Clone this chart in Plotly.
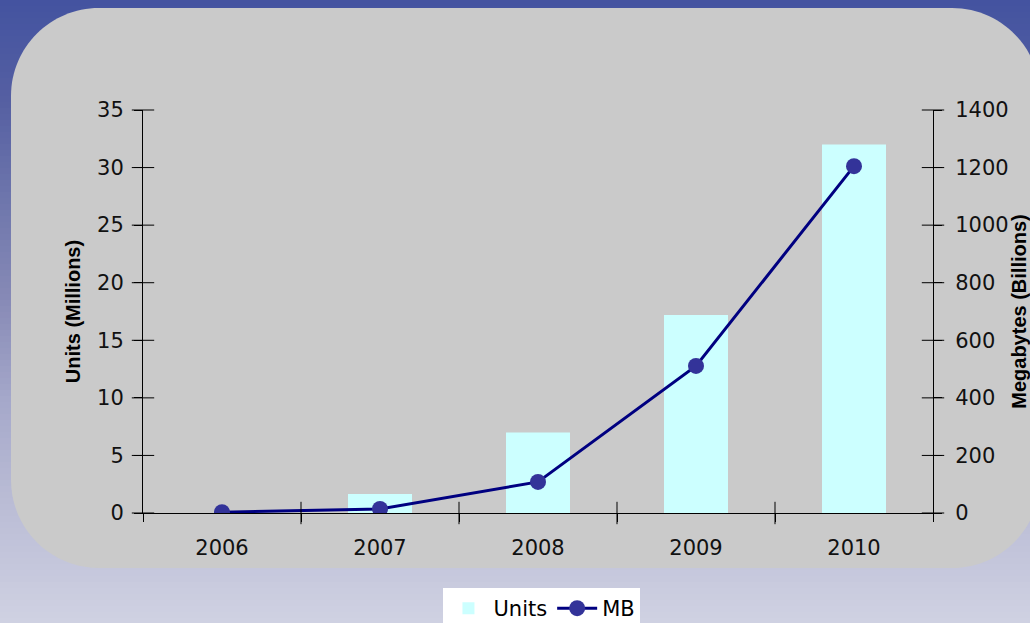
import plotly.graph_objects as go

years = ["2006", "2007", "2008", "2009", "2010"]
units_millions = [0, 1.65, 7.0, 17.2, 32.0]
mb_billions = [3, 14, 108, 511, 1205]
units_ticks = [0, 5, 10, 15, 20, 25, 30, 35]
mb_ticks = [0, 200, 400, 600, 800, 1000, 1200, 1400]

W, H = 1030, 623
L, R, T, B = 143, 97, 110, 110
PW, PH = W - L - R, H - T - B


def px(x):
    return (x - L) / PW


def py(y):
    return (H - B - y) / PH


shapes = []
# background vertical gradient
stops = [(0, (67, 83, 160)), (100, (85, 95, 162)), (200, (110, 118, 172)),
         (300, (135, 138, 182)), (400, (165, 168, 202)), (500, (186, 188, 213)),
         (623, (207, 209, 226))]


def col_at(y):
    for (y0, c0), (y1, c1) in zip(stops[:-1], stops[1:]):
        if y0 <= y <= y1:
            t = (y - y0) / (y1 - y0)
            c = [round(a + (b - a) * t) for a, b in zip(c0, c1)]
            return "rgb(%d,%d,%d)" % tuple(c)
    return "rgb(%d,%d,%d)" % stops[-1][1]


step = 6
for y in range(0, H, step):
    shapes.append(dict(type="rect", xref="paper", yref="paper", layer="below",
                       x0=px(-2), x1=px(W + 2), y0=py(y + step + 0.5), y1=py(y),
                       fillcolor=col_at(y + step / 2), line=dict(width=0)))

# rounded grey panel
x0, x1, y0, y1, r = 11, 1040, 8, 568, 88
k = 0.5523 * r


def P(x, y):
    return "%.5f,%.5f" % (px(x), py(y))


path = ("M " + P(x0 + r, y0) + " L " + P(x1 - r, y0) +
        " C " + P(x1 - r + k, y0) + " " + P(x1, y0 + r - k) + " " + P(x1, y0 + r) +
        " L " + P(x1, y1 - r) +
        " C " + P(x1, y1 - r + k) + " " + P(x1 - r + k, y1) + " " + P(x1 - r, y1) +
        " L " + P(x0 + r, y1) +
        " C " + P(x0 + r - k, y1) + " " + P(x0, y1 - r + k) + " " + P(x0, y1 - r) +
        " L " + P(x0, y0 + r) +
        " C " + P(x0, y0 + r - k) + " " + P(x0 + r - k, y0) + " " + P(x0 + r, y0) + " Z")
shapes.append(dict(type="path", xref="paper", yref="paper", layer="below", path=path,
                   fillcolor="#cacaca", line=dict(width=0)))

tickfont = dict(family="DejaVu Sans", size=21, color="#111111")
titlefont = dict(family="Liberation Sans", size=20, color="#000000")

fig = go.Figure()
fig.add_trace(go.Bar(x=years, y=units_millions, name="Units",
                     marker=dict(color="#ccffff", line=dict(width=0)),
                     xaxis="x", yaxis="y"))
fig.add_trace(go.Scatter(x=years, y=mb_billions, name="MB", mode="lines+markers",
                         line=dict(color="#000080", width=3),
                         marker=dict(color="#333399", size=16),
                         xaxis="x", yaxis="y2"))

# crossing tick marks (axis furniture) on a hidden linear copy of the x axis
n = len(years)
lo, hi = -0.5, n - 0.5
tick_mk = dict(mode="markers", showlegend=False, hoverinfo="skip", cliponaxis=False)
fig.add_trace(go.Scatter(x=[lo] * len(units_ticks), y=units_ticks, xaxis="x3", yaxis="y",
                         marker=dict(symbol="line-ew", size=16,
                                     line=dict(width=1, color="#000000")), **tick_mk))
fig.add_trace(go.Scatter(x=[hi] * len(mb_ticks), y=mb_ticks, xaxis="x3", yaxis="y2",
                         marker=dict(symbol="line-ew", size=16,
                                     line=dict(width=1, color="#000000")), **tick_mk))
bounds = [i + 0.5 for i in range(n - 1)]
fig.add_trace(go.Scatter(x=bounds, y=[0] * len(bounds), xaxis="x3", yaxis="y",
                         marker=dict(symbol="line-ns", size=16,
                                     line=dict(width=1, color="#000000")), **tick_mk))

fig.update_layout(
    width=W, height=H,
    margin=dict(l=L, r=R, t=T, b=B, autoexpand=False),
    paper_bgcolor="rgb(67,83,160)",
    plot_bgcolor="rgba(0,0,0,0)",
    shapes=shapes,
    bargap=0.595,
    showlegend=True,
    legend=dict(orientation="h", x=0.505, xanchor="center", y=py(588), yanchor="top",
                bgcolor="#ffffff", font=dict(family="DejaVu Sans", size=21, color="#000000"),
                borderwidth=0, traceorder="normal", itemwidth=40,
                tracegroupgap=0),
    xaxis=dict(type="category", categoryarray=years, range=[lo, hi],
               tickson="boundaries", ticks="outside", ticklen=8, tickcolor="#000000",
               tickwidth=1, showgrid=False, zeroline=False, showline=True,
               linecolor="#000000", linewidth=1, tickfont=tickfont, ticklabelstandoff=16),
    xaxis3=dict(type="linear", overlaying="x", range=[lo, hi], visible=False),
    yaxis=dict(range=[0, 35], tickvals=units_ticks, ticks="outside", ticklen=8,
               tickcolor="#000000", showline=True, linecolor="#000000", linewidth=1,
               showgrid=False, zeroline=False, tickfont=tickfont, ticklabelstandoff=6,
               title=dict(text="<b>Units (Millions)</b>", font=titlefont, standoff=11)),
    yaxis2=dict(range=[0, 1400], tickvals=mb_ticks, ticks="outside", ticklen=8,
                tickcolor="#000000", overlaying="y", side="right",
                showline=True, linecolor="#000000", linewidth=1, showgrid=False,
                zeroline=False, tickfont=tickfont, ticklabelstandoff=9,
                title=dict(text="<b>Megabytes (Billions)</b>", font=titlefont, standoff=12)),
)

fig.write_html("out.html")
